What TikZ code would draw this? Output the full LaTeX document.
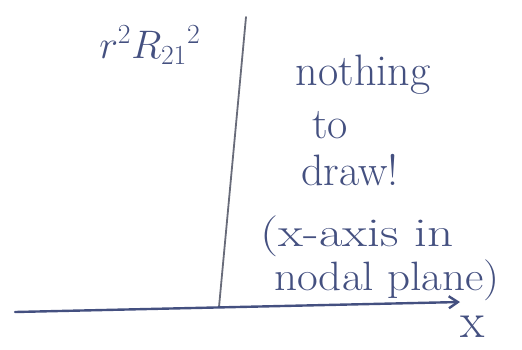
\documentclass[tikz,border=0pt]{standalone}
\usepackage{fontspec}
\usetikzlibrary{arrows.meta}
\definecolor{pen}{RGB}{68,80,128}
\definecolor{pencil}{RGB}{105,108,122}
\tikzset{
  hand/.style={text=pen, inner sep=0pt, font=\fontsize{44}{50}\selectfont},
  axisline/.style={draw=pen, line width=2.4pt, line cap=round},
  vline/.style={draw=pencil, line width=1.8pt, line cap=round}
}
\begin{document}
\begin{tikzpicture}[x=1pt,y=-1pt]
\useasboundingbox (0,0) rectangle (522,349);
\coordinate (xs) at (15,312);
\coordinate (xe) at (460,302);
\coordinate (vt) at (246,17);
\coordinate (vb) at (219,307);
\draw[vline] (vt) -- (vb);
\draw[axisline, -{Straight Barb[length=9pt,width=12pt]}] (xs) -- (xe);
\node[hand, font=\fontsize{24}{28}\selectfont, scale=1.6] (lab) at (150,45) {$r^2R_{21}{}^{2}$};
\node[hand] (l1) at (363,75) {nothing};
\node[hand] (l2) at (330,125) {to};
\node[hand] (l3) at (350,170) {draw!};
\node[hand, font=\fontsize{41}{46}\selectfont, xscale=1.25] (l4) at (357,236) {(x-axis in};
\node[hand, font=\fontsize{41}{46}\selectfont, xscale=1.1] (l5) at (387,280) {nodal plane)};
\node[hand, font=\fontsize{50}{56}\selectfont] (xl) at (473,327) {x};
\end{tikzpicture}
\end{document}
